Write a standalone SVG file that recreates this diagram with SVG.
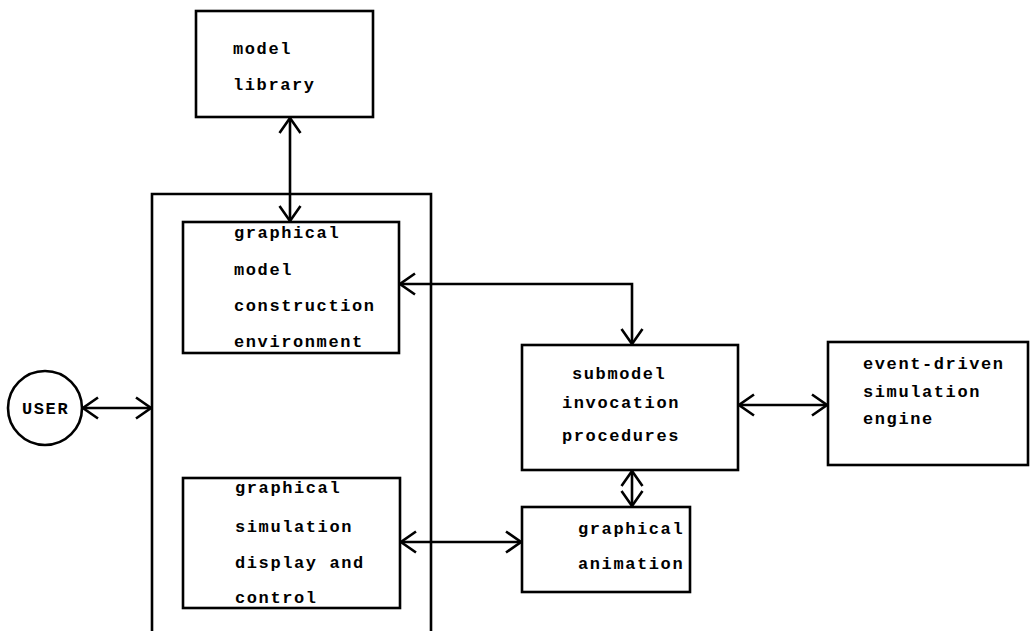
<svg xmlns="http://www.w3.org/2000/svg" width="1030" height="631" viewBox="0 0 1030 631">
<defs>
<style>
.box{fill:none;stroke:#000;stroke-width:2.6}
.ln{fill:none;stroke:#000;stroke-width:2.6;marker-start:url(#ah);marker-end:url(#ah)}
text{font-family:"Liberation Mono","DejaVu Sans Mono",monospace;font-weight:bold;font-size:17px;letter-spacing:1.6px;fill:#000}
</style>
<marker id="ah" viewBox="0 0 20 24" refX="18" refY="12" markerWidth="20" markerHeight="24" markerUnits="userSpaceOnUse" orient="auto-start-reverse">
<path d="M3,1.5 L18,12 L3,22.5" fill="none" stroke="#000" stroke-width="2.6"/>
</marker>
</defs>
<rect width="1030" height="631" fill="#fff"/>
<g id="container">
<path class="box" d="M152,631 V194 H431 V631"/>
</g>
<g id="model-library">
<rect class="box" x="196" y="11" width="177" height="106"/>
<text x="233" y="54">model</text>
<text x="233" y="90">library</text>
</g>
<g id="construction-env">
<rect class="box" x="183" y="222" width="216" height="131"/>
<text x="234" y="238">graphical</text>
<text x="234" y="275">model</text>
<text x="234" y="311">construction</text>
<text x="234" y="347">environment</text>
</g>
<g id="user">
<circle class="box" cx="45" cy="408" r="37"/>
<text x="22" y="414">USER</text>
</g>
<g id="display-control">
<rect class="box" x="183" y="478" width="217" height="130"/>
<text x="235" y="493">graphical</text>
<text x="235" y="532">simulation</text>
<text x="235" y="568">display and</text>
<text x="235" y="603">control</text>
</g>
<g id="submodel">
<rect class="box" x="522" y="345" width="216" height="125"/>
<text x="572" y="379">submodel</text>
<text x="562" y="408">invocation</text>
<text x="562" y="441">procedures</text>
</g>
<g id="engine">
<rect class="box" x="828" y="342" width="200" height="123"/>
<text x="863" y="369">event-driven</text>
<text x="863" y="397">simulation</text>
<text x="863" y="424">engine</text>
</g>
<g id="animation">
<rect class="box" x="522" y="507" width="168" height="85"/>
<text x="578" y="534">graphical</text>
<text x="578" y="569">animation</text>
</g>
<g id="connectors">
<path class="ln" d="M290,118 V221"/>
<path class="ln" d="M83,408 H151"/>
<path class="ln" d="M400,284 H632 V344"/>
<path class="ln" d="M739,405 H827"/>
<path class="ln" d="M401,542 H521"/>
<path class="ln" d="M632,471 V506"/>
</g>
</svg>
